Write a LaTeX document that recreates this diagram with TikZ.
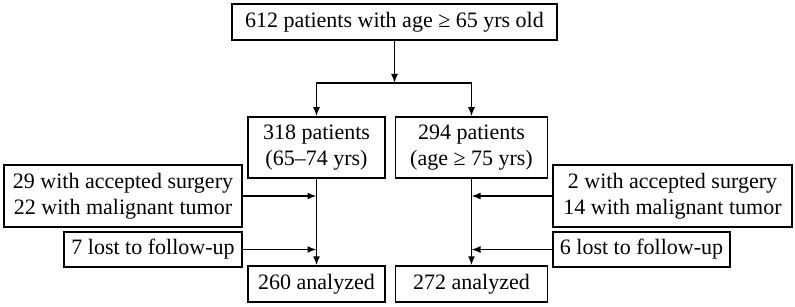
\documentclass[tikz,border=0pt]{standalone}
\usepackage{fontspec}
\setmainfont{Liberation Serif}
\usetikzlibrary{arrows.meta}
\begin{document}
\begin{tikzpicture}[x=1pt, y=-1pt,
  every node/.style={font=\fontsize{22}{26}\selectfont},
  box/.style={draw, line width=1.5pt, align=center, inner sep=2pt},
  arr/.style={line width=1.5pt, -{Latex[length=9pt,width=7pt]}}]
  \useasboundingbox (0,0) rectangle (795,307);

  % top
  \node[box, minimum width=325pt, minimum height=36pt] (top) at (394.5,22) {612 patients with age ≥ 65 yrs old};
  \coordinate (split) at (394.5,83);

  % age groups
  \node[box, minimum width=137pt, minimum height=61pt] (young) at (316.5,147.5) {318 patients\\(65–74 yrs)};
  \node[box, minimum width=152pt, minimum height=61pt] (old) at (471.5,147.5) {294 patients\\(age ≥ 75 yrs)};

  % exclusions
  \node[box, minimum width=238pt, minimum height=62pt] (youngex) at (123,196) {29 with accepted surgery\\22 with malignant tumor};
  \node[box, minimum width=178pt, minimum height=35pt] (youngloss) at (153,249.5) {7 lost to follow-up};
  \node[box, minimum width=239pt, minimum height=62pt] (oldex) at (672.5,196) {2 with accepted surgery\\14 with malignant tumor};
  \node[box, minimum width=177pt, minimum height=35pt] (oldloss) at (641.5,249.5) {6 lost to follow-up};

  % analyzed
  \node[box, minimum width=137pt, minimum height=36pt] (younga) at (316.5,284) {260 analyzed};
  \node[box, minimum width=152pt, minimum height=36pt] (olda) at (471.5,284) {272 analyzed};

  % arrows
  \draw[arr] (top) -- (split);
  \draw[arr] (split) -| (young);
  \draw[arr] (split) -| (old);
  \draw[arr] (young) -- (younga);
  \draw[arr] (old) -- (olda);
  \draw[arr] (youngex) -- (youngex -| young);
  \draw[arr] (youngloss) -- (youngloss -| young);
  \draw[arr] (oldex) -- (oldex -| old);
  \draw[arr] (oldloss) -- (oldloss -| old);
\end{tikzpicture}
\end{document}
